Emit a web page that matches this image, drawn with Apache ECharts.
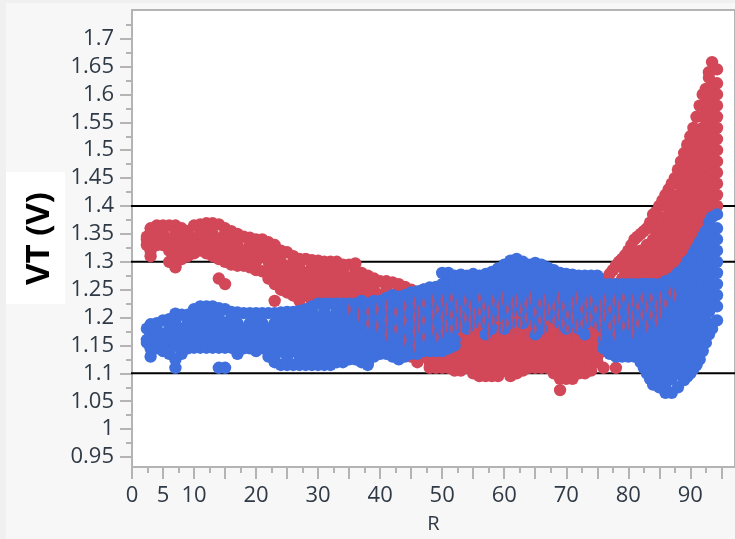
<!DOCTYPE html>
<html><head><meta charset="utf-8">
<style>html,body{margin:0;padding:0;background:#f0f0f0}#c{width:735px;height:539px}</style>
<script src="https://cdn.jsdelivr.net/npm/echarts@6/dist/echarts.min.js"></script>
</head><body><div id="c"></div>
<script>
// Each row: R, then VT readings in hundredths of a volt
const redLeft = [
[2.4,134],[3,135,133,131],[4,134.5],[5,135],[6,134,132],[7,135,133,131,129],
[8,134,132],[9,135,133],[10,134,132.5],[11,135,133],[12,136,134,132],
[13,135,133],[14,134,132,127],[15,135,133,131,126],[16,134,132,130],[17,133,131],
[18,132,130],[19,133,131],[20,132,130],[21,133,131],[22,132,130,128],
[23,131,129,127,123],[24,130,128,126],[25,129,127,125],[26,130,128,126,124],
[27,129,127,125,123],[28,128,126,124],[29,129,127,125,123],[30,128,126,124],[31,129,127,125,123],
[32,128,126,124],[33,129,127,125,123],[34,128,126,124],[35,127,125,123]];
const redMiddle = [
[36,128,126,124,122],[37,127,125,123,121],[38,126,124,122,120],[39,125,123,121,119],
[40,124,122,120,118],[41,125,123,121,119,117],[42,124,122,120,118,116],[43,125,123,121,119,117,115],
[44,124,122,120,118,116,114],[45,123,121,119,117,115,113],[46,124,122,120,118,116,114,112],
[47,125,123,121,119,117,115,113],[48,124,122,120,118,116,114,112],[49,123,121,119,117,115,113],
[50,124,122,120,118,116,114,112],[51,123,121,119,117,115,113],[52,124,122,120,118,116,114,112],
[53,123,121,119,117,115,113,111],[54,124,122,120,118,116,114,112],[55,123,121,119,117,115,113,111],
[56,124,122,120,118,116,114,112,110],[57,123,121,119,117,115,113,111],[58,124,122,120,118,116,114,112,110],
[59,123,121,119,117,115,113,111],[60,124,122,120,118,116,114,112],[61,123,121,119,117,115,113,111],
[62,124,122,120,118,116,114,112],[63,123,121,119,117,115,113,111],[64,124,122,120,118,116,114,112],
[65,123,121,119,117,115,113],[66,124,122,120,118,116,114,112],[67,123,121,119,117,115,113],
[68,124,122,120,118,116,114,112],[69,123,121,119,117,115,113,111,109],[70,124,122,120,118,116,114,112,110],
[71,123,121,119,117,115,113,111],[72,124,122,120,118,116,114,112],[73,123,121,119,117,115,113,111],
[74,124,122,120,118,116,114,112],[75,123,121,119,117,115,113]];
const redRight = [
[76,124,122,120,118,116,114,111],[77,125,123,121,119,117,115],[78,126,124,122,120,118,116,111],
[79,129,127,125,123,121,119,117],[80,130,128,126,124,122,120,118,116],[81,131,129,127,125,123,121,119,117],
[82,132,130,128,126,124,122,120,118],[83,133,131,129,127,125,123,121,119],[84,136,134,132,130,128,126,124,122],
[85,137,135,133,131,129,127,125,123],[86,140,138,136,134,132,130,128,126,124],[87,141,139,137,135,133,131,129,127],
[88,144,142,140,138,136,134,132,130,128],[89,147,145,143,141,139,137,135,133,131],
[90,150,148,146,144,142,140,138,136,134,132],[91,153,151,149,147,145,143,141,139,137,135,133],
[92,158,156,154,152,150,148,146,144,142,140,138,136],[93,163,161,159,157,155,153,151,149,147,145,143,141,139],
[94.3,162,160,158,156,154,152,150,148,146,144,142,140]];
// R, top edge, bottom edge of the red cloud
const redEdges = [
[2.4,134.5,133],[3,136,132],[4,136.5,133],[5,136.5,133],[6,136.5,130],[7,136.5,129.3],[8,136,130.5],[9,135.5,131],
[10,136.5,131.5],[11,136.7,132],[12,136.9,131.5],[13,136.9,131],[14,136.7,130.5],[15,136,130],[16,135.5,129.5],
[17,135,129.3],[18,134.5,129.3],[19,134.3,129],[20,134,128.5],[21,134,128.3],[22,133.5,127],[23,133,126],[24,132,125],
[25,131.7,124.5],[26,131,124],[27,130.5],[28,130.5],[29,130.3],[30,130.2],[31,130],[32,130],[33,130],[34,129.5],[35,129.5],
[36,129.7],[37,128],[38,127.5],[39,127],[40,126.5],[41,126.5],[42,126.3],[43,126],[44,125.5],[45,125],[46,124.5],
[48,111],[49,111],[50,111],[51,111],[52,110.5],[53,110.5],[54,111],[55,110],[56,109.5],[57,109.5],[58,109.5],[59,109.5],
[60,110.5],[61,109.5],[62,110],[63,110.5],[64,111],[65,111],[66,111],[67,111],[68,110],[69,107],[70,109],[71,109],
[72,110],[73,110],[74,110.5],[75,112],
[76,126.3],[76.5,127],[77,127.8],[77.5,128.5],[78,129.3],[78.5,130],[79,130.5],[79.5,131.2],[80,132],[80.5,133],[81,134],
[81.5,134.5],[82,135],[82.5,135.5],[83,136],[83.5,137],[84,138.5],[84.5,139],[85,140],[85.5,141],[86,142],[86.5,143],[87,144],
[87.5,145],[88,146.5],[88.5,148],[89,149.5],[89.5,151],[90,152.5],[90.5,154],[91,156],[91.5,158],[92,160],[92.5,161],[93,164],
[93.5,165.8],[94.3,164.5]];

const blueLeft = [
[2.4,116],[3,117,113],[4,118,116],[5,117,115],[6,118,116,114],[7,119,117,115,111],
[8,118,116,114],[9,119,117,115],[10,120,118,116],[11,121,119,117,115],[12,120,118,116],
[13,121,119,117,115],[14,120,118,116,111],[15,119,117,115,111],[16,120,118,116],[17,119,117,115],
[18,118,116],[19,119,117,115],[20,120,118,116],[21,119,117,115],[22,118,116,114],
[23,119,117,115,113],[24,120,118,116,114],[25,119,117,115,113],[26,120,118,116,114],
[27,119,117,115,113],[28,120,118,116,114,112],[29,121,119,117,115,113],[30,120,118,116,114,112],
[31,121,119,117,115,113],[32,120,118,116,114,112],[33,121,119,117,115,113],[34,122,120,118,116,114],
[35,121,119,117,115,113]];
const blueMiddle = [
[36,122,120,118,116,114],[37,123,121,119,117,115,113],[38,122,120,118,116,114,112],[39,123,121,119,117,115],
[40,122,120,118,116,114],[41,123,121,119,117,115],[42,124,122,120,118,116,114],[43,123,121,119,117,115,113],
[44,124,122,120,118,116,114],[45,123,121,119,117,115],[46,124,122,120,118,116,114],[47,125,123,121,119,117,115],
[48,124,122,120,118,116],[49,125,123,121,119,117,115],[50,126,124,122,120,118,116],[51,127,125,123,121,119,117,115],
[52,126,124,122,120,118,116],[53,127,125,123,121,119],[54,126,124,122,120,118],[55,127,125,123,121,119],
[56,126,124,122,120],[57,127,125,123,121,119,117],[58,128,126,124,122,120,118],[59,127,125,123,121],
[60,128,126,124,122,120,118],[61,129,127,125,123,121,119],[62,130,128,126,124,122],[63,129,127,125,123,121,119],
[64,128,126,124,122,120],[65,129,127,125,123,121,119,117],[66,128,126,124,122,120,118],[67,127,125,123,121],
[68,128,126,124,122,120],[69,127,125,123,121,119],[70,126,124,122,120,118],[71,127,125,123,121,119],
[72,126,124,122,120,118],[73,127,125,123,121,119,117],[74,126,124,122,120],[75,127,125,123,121,119]];
const blueRight = [
[76,124,122,120,118,116],[77,125,123,121,119,117,115],[78,124,122,120,118,116,114],[79,125,123,121,119,117,115],
[80,124,122,120,118,116,114],[81,125,123,121,119,117,115],[82,124,122,120,118,116,114],
[83,125,123,121,119,117,115,113,111],[84,124,122,120,118,116,114,112,110],[85,125,123,121,119,117,115,113,111,109],
[86,124,122,120,118,116,114,112,110,108],[87,125,123,121,119,117,115,113,111,109],
[88,126,124,122,120,118,116,114,112,110],[89,127,125,123,121,119,117,115,113,111],
[90,128,126,124,122,120,118,116,114,112],[91,131,129,127,125,123,121,119,117,115,113],
[92,132,130,128,126,124,122,120,118,116],[93,135,133,131,129,127,125,123,121,119],
[94.3,136,134,132,130,128,126,124,122]];
// R, top edge, bottom edge of the blue cloud
const blueEdges = [
[2.4,118,115.5],[3,118.8,114.5],[4,119,114.5],[5,119.5,114],[6,119.7,113.5],[7,120.7,112.5],[8,120.5,113.5],[9,120.5,114.5],
[10,121.5,114.6],[11,122,114.6],[12,122,114.6],[13,122,114.6],[14,121.7,114.6],[15,121.5,114.6],[16,121,114.6],
[17,120.9,113.5],[18,120.8,114.5],[19,120.8,114.5],[20,120.8,114],[21,120.8,114.5],[22,120.8,113],[23,120.8,112],
[24,120.9,111.5],[25,121,111.5],[26,121,111.5],[27,121.2,111.5],[28,121.5,111.5],[29,122,111.5],[30,122.5,111.5],
[31,122.5,111.5],[32,122.5,111.5],[33,122.5,112],[34,122.5,112],[35,122.5,112.5],[36,122.5,112.5],[37,122.5,112],
[38,122.5,111.5],[39,122.7,113],[40,123,113.5],[41,123.5,113.5],[42,123.5,113],[43,123.7,112.5],[44,124,113],
[45,124.5,113.5],[46,124.7,113.5],[47,125,114],[48,125.4,114],[49,125.5,114],[50,128,114],[51,128,114.5],[52,127.5,115],
[53,127.7],[54,127.5],[55,127.8],[56,127.5],[57,127.8],[58,128.2],[59,128.8],[60,129.5],[61,130.2],[62,130.5],[63,130],
[64,129.5],[65,129.8],[66,129.5],[67,129],[68,128.5],[69,128],[70,127.8],[71,127.7],[72,127.5],[73,127.5],[74,127.5],[75,127.5],
[76,126,114.5],[77,126,113.5],[78,126,113],[79,126,113],[80,126,113],[81,126,113],[82,126,112],[82.5,126,111],[83,126,110],[83.5,126,109],
[84,126,108],[85,126,107.5],[86,126.5,106.5],[87,127,106.5],[88,128,107.5],[89,129,108.8],[89.5,130,109.4],[90,130.5,110],[90.5,131.5,110.8],
[91,132.5,111.5],[91.5,133.5,112.5],[92,134.5,114],[92.5,135.5,115.5],[93,137,117],[93.5,138,118],[94.3,138.5,119.5]];
// Red readings that show through the blue in the overlap region
const redOverBlue = [
[35,121.5],[36.5,120.5],[38,121,119],[39.5,121.5,118.5],[41,122,119.5,117],[42.5,121,118],[44,122,119.5,116],[45.5,122.5,120,117.5,115],
[46.2,121,118.5],[47,122.5,119.5,116.5],[48.5,123,120.5,118],[49.2,121.5,116.5],[50,123,120,117.5],[50.7,121.5,118.5],[51.5,123.5,120.5,118],
[52.3,122,119],[53,121,118.5],[53.7,123,120],[54.5,122,119.5,117.5],[55.2,120.5,118],[56,123.5,121,118.5],[56.7,122,119.5],[57.5,121,118,116.5],
[58.2,123,119.5],[59,122,120,117.5],[59.7,123.5,118.5],[60.5,121.5,119],[61.3,122.5,120,117.5],[62,123,120,118],[62.7,121.5,119],
[63.5,122.5,120,117],[64.2,123.5,118.5],[65,121,118],[65.7,122.5,119.5],[66.5,123,120.5,117.5],[67.2,121.5,118.5],[68,122,119.5],
[68.7,123.5,120.5,117.5],[69.5,122,119],[70.2,120.5,118],[71,122.5,120,117],[71.7,123.5,118.5],[72.5,121.5,119],[73.2,122.5,120],
[74,123,120,117.5],[74.7,121.5,118.5],[75.5,122,119.5,117],[76.2,123,120.5],[77,121.5,118.5],[77.7,123,119.5,117],[78.5,122,120],
[79.2,123.5,118.5],[80,121.5,119],[80.7,123,120,117.5],[81.5,122,119],[82.2,123.5,120.5],[83,122,118.5],[83.7,123.5,120.5],
[84.5,122,119.5],[85.2,123.5,121],[86,122.5],[86.7,124.5],[87.5,124]];

const xMajorTicks = [0,5,10,15,20,25,30,35,40,45,50,55,60,65,70,75,80,85,90,95];
const xMinorTicks = [2.5,7.5,12.5,17.5,22.5,27.5,32.5,37.5,42.5,47.5,52.5,57.5,62.5,67.5,72.5,77.5,82.5,87.5,92.5];
const xTickLabels = [0,5,10,20,30,40,50,60,70,80,90];
const yMajorTicks = [0.95,1,1.05,1.1,1.15,1.2,1.25,1.3,1.35,1.4,1.45,1.5,1.55,1.6,1.65,1.7];
const yMinorTicks = [0.975,1.025,1.075,1.125,1.175,1.225,1.275,1.325,1.375,1.425,1.475,1.525,1.575,1.625,1.675,1.725];
const refLines = [1.1,1.3,1.4];
const xRange = [0,97.2], yRange = [0.9321,1.7514], lineStart = -1.92;

const expand = rows => rows.flatMap(r => r.slice(1).map(v => [r[0], v/100]));
const gray = '#b4b4b4', labelColor = '#2f3a46', font = '"Open Sans"', dot = 12.4;
const gridBox = {left:132, top:10, width:606, height:457, show:true, backgroundColor:'#fff', borderColor:gray, borderWidth:2};
const xBase = {type:'value', min:xRange[0], max:xRange[1], splitLine:{show:false}};
const yBase = {type:'value', min:yRange[0], max:yRange[1], splitLine:{show:false}};
const chart = echarts.init(document.getElementById('c'), null, {renderer:'canvas'});
chart.setOption({
  animation:false,
  backgroundColor:'#f0f0f0',
  graphic:[
    {type:'rect', z:-10, shape:{x:6,y:3,width:729,height:536}, style:{fill:'#f7f7f7'}},
    {type:'rect', z:-9, shape:{x:6,y:172,width:59,height:132}, style:{fill:'#fff'}}
  ],
  grid:gridBox,
  xAxis:[
    {...xBase, name:'R', nameLocation:'middle', nameGap:47,
     nameTextStyle:{fontFamily:font, fontSize:20, color:labelColor},
     axisLine:{lineStyle:{color:gray,width:2}},
     axisTick:{length:12, customValues:xMajorTicks, lineStyle:{color:gray,width:2}},
     axisLabel:{customValues:xTickLabels, margin:18, fontFamily:font, fontSize:22, color:labelColor}},
    {...xBase, position:'bottom', axisLine:{show:false},
     axisTick:{length:6, customValues:xMinorTicks, lineStyle:{color:gray,width:2}}, axisLabel:{show:false}}
  ],
  yAxis:[
    {...yBase, name:'VT (V)', nameLocation:'middle', nameGap:76, nameRotate:90,
     nameTextStyle:{fontFamily:font, fontSize:33, fontWeight:'bold', color:'#000'},
     axisLine:{lineStyle:{color:gray,width:2}},
     axisTick:{length:12, customValues:yMajorTicks, lineStyle:{color:gray,width:2}},
     axisLabel:{customValues:yMajorTicks, margin:18, fontFamily:font, fontSize:22, color:labelColor,
       formatter:v => String(+v.toFixed(2))}},
    {...yBase, position:'left', axisLine:{show:false},
     axisTick:{length:6, customValues:yMinorTicks, lineStyle:{color:gray,width:2}}, axisLabel:{show:false}}
  ],
  series:[
    ...refLines.map(v => ({type:'line', z:2, clip:false, symbol:'none', silent:true,
      data:[[lineStart,v],[xRange[1],v]], lineStyle:{color:'#000',width:2}})),
    {type:'scatter', z:3, symbol:'circle', symbolSize:dot, itemStyle:{color:'#d24858', opacity:1},
      data:expand(redLeft.concat(redMiddle, redRight, redEdges))},
    {type:'scatter', z:4, symbol:'circle', symbolSize:dot, itemStyle:{color:'#3f70de', opacity:1},
      data:expand(blueLeft.concat(blueMiddle, blueRight, blueEdges))},
    {type:'scatter', z:5, symbol:'diamond', symbolSize:[3.5,15], itemStyle:{color:'#c44a68', opacity:0.8},
      data:expand(redOverBlue)}
  ]
});
</script></body></html>
